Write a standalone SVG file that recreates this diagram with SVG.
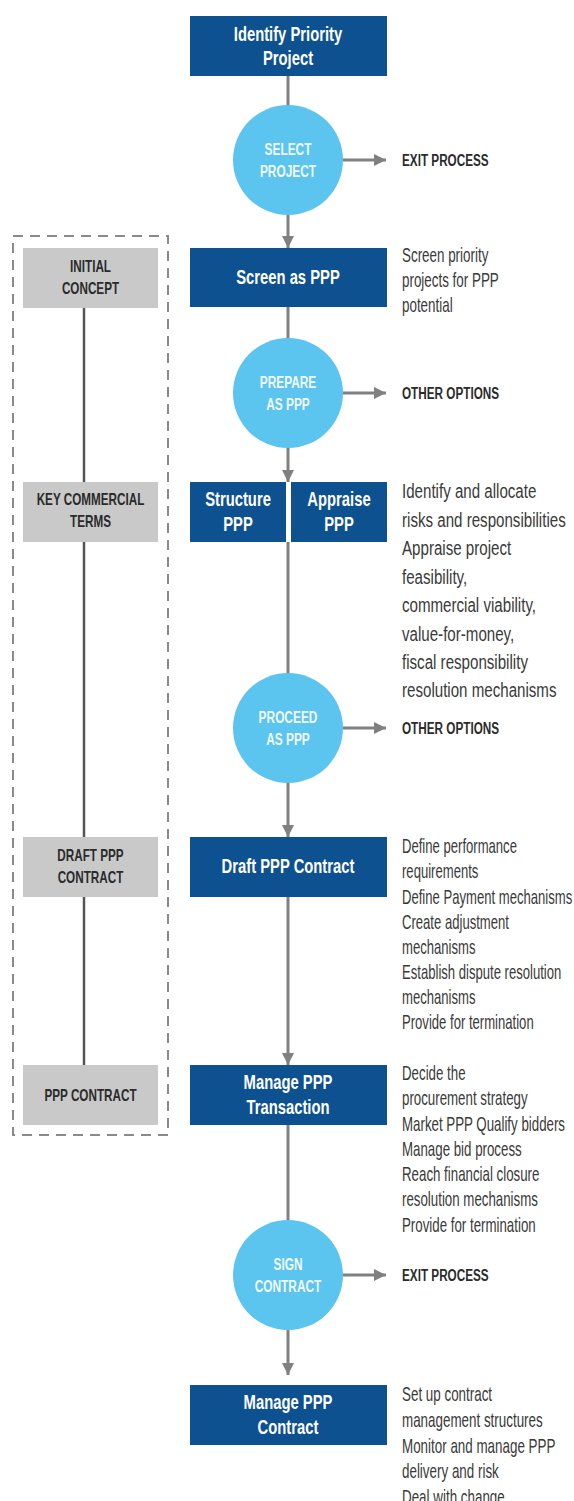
<svg xmlns="http://www.w3.org/2000/svg" width="574" height="1501" viewBox="0 0 574 1501">
<defs>
<style>
.box{fill:#0e5191}
.circ{fill:#5bc4ef}
.gray{fill:#c9c9c9}
.bt{font-family:'Liberation Sans',Arial,sans-serif;font-weight:bold;font-size:20px;fill:#ffffff;text-anchor:middle}
.ct{font-family:'Liberation Sans',Arial,sans-serif;font-weight:bold;font-size:17px;fill:#f2f9fd;text-anchor:middle}
.gt{font-family:'Liberation Sans',Arial,sans-serif;font-weight:bold;font-size:16.5px;fill:#2b2b2b;text-anchor:middle}
.xt{font-family:'Liberation Sans',Arial,sans-serif;font-weight:bold;font-size:17px;fill:#2b2b2b}
.rt{font-family:'Liberation Sans',Arial,sans-serif;font-size:20px;fill:#3a3a3a}
.rt2{font-family:'Liberation Sans',Arial,sans-serif;font-size:21px;fill:#3a3a3a}
.ln{stroke:#808080;stroke-width:3;fill:none}
.lnl{stroke:#555555;stroke-width:2.5;fill:none}
</style>
<marker id="ah" markerWidth="12" markerHeight="12" viewBox="0 0 12 12" refX="12" refY="6" orient="auto" markerUnits="userSpaceOnUse">
<path d="M0,0 L12,6 L0,12 Z" fill="#808080"/>
</marker>
</defs>
<rect width="574" height="1501" fill="#ffffff"/>

<g id="connectors">
<line class="ln" x1="288" y1="76" x2="288" y2="106"/>
<line class="ln" x1="288" y1="214" x2="288" y2="248" marker-end="url(#ah)"/>
<line class="ln" x1="343" y1="160" x2="386" y2="160" marker-end="url(#ah)"/>
<line class="ln" x1="288" y1="307" x2="288" y2="339"/>
<line class="ln" x1="343" y1="393" x2="386" y2="393" marker-end="url(#ah)"/>
<line class="ln" x1="288" y1="447" x2="288" y2="482" marker-end="url(#ah)"/>
<line class="ln" x1="288" y1="542" x2="288" y2="674"/>
<line class="ln" x1="343" y1="728" x2="386" y2="728" marker-end="url(#ah)"/>
<line class="ln" x1="288" y1="782" x2="288" y2="837" marker-end="url(#ah)"/>
<line class="ln" x1="288" y1="897" x2="288" y2="1065" marker-end="url(#ah)"/>
<line class="ln" x1="288" y1="1125" x2="288" y2="1221"/>
<line class="ln" x1="343" y1="1275" x2="386" y2="1275" marker-end="url(#ah)"/>
<line class="ln" x1="288" y1="1329" x2="288" y2="1375" marker-end="url(#ah)"/>
<line class="lnl" x1="84" y1="308" x2="84" y2="482"/>
<line class="lnl" x1="84" y1="542" x2="84" y2="837"/>
<line class="lnl" x1="84" y1="897" x2="84" y2="1065"/>
</g>

<g id="stage-frame">
<rect x="13" y="236" width="155" height="899" fill="none" stroke="#8a8a8a" stroke-width="2" stroke-dasharray="10 7"/>
</g>

<g id="identify">
<rect class="box" x="190" y="16" width="197" height="60"/>
<text class="bt" transform="translate(288 0) scale(0.74 1)" x="0" y="41">Identify Priority</text>
<text class="bt" transform="translate(288 0) scale(0.74 1)" x="0" y="65">Project</text>
</g>

<g id="select">
<circle class="circ" cx="288" cy="160" r="55"/>
<text class="ct" transform="translate(288 0) scale(0.7 1)" x="0" y="155">SELECT</text>
<text class="ct" transform="translate(288 0) scale(0.7 1)" x="0" y="177">PROJECT</text>
</g>
<g id="exit1"><text class="xt" transform="translate(402 0) scale(0.69 1)" x="0" y="166">EXIT PROCESS</text></g>

<g id="initial-concept">
<rect class="gray" x="23" y="248" width="135" height="60"/>
<text class="gt" transform="translate(90.5 0) scale(0.71 1)" x="0" y="272">INITIAL</text>
<text class="gt" transform="translate(90.5 0) scale(0.71 1)" x="0" y="294">CONCEPT</text>
</g>

<g id="screen">
<rect class="box" x="190" y="248" width="197" height="59"/>
<text class="bt" transform="translate(288 0) scale(0.74 1)" x="0" y="284">Screen as PPP</text>
</g>
<g id="screen-notes" class="rt" transform="translate(402 0) scale(0.67 1)">
<text x="0" y="262">Screen priority</text>
<text x="0" y="287">projects for PPP</text>
<text x="0" y="312">potential</text>
</g>

<g id="prepare">
<circle class="circ" cx="288" cy="393" r="55"/>
<text class="ct" transform="translate(288 0) scale(0.7 1)" x="0" y="388">PREPARE</text>
<text class="ct" transform="translate(288 0) scale(0.7 1)" x="0" y="410">AS PPP</text>
</g>
<g id="other1"><text class="xt" transform="translate(402 0) scale(0.69 1)" x="0" y="399">OTHER OPTIONS</text></g>

<g id="key-terms">
<rect class="gray" x="23" y="482" width="135" height="60"/>
<text class="gt" transform="translate(90.5 0) scale(0.71 1)" x="0" y="505">KEY COMMERCIAL</text>
<text class="gt" transform="translate(90.5 0) scale(0.71 1)" x="0" y="527">TERMS</text>
</g>

<g id="structure">
<rect class="box" x="190" y="482" width="96" height="60"/>
<text class="bt" transform="translate(238 0) scale(0.74 1)" x="0" y="506">Structure</text>
<text class="bt" transform="translate(238 0) scale(0.74 1)" x="0" y="531">PPP</text>
</g>
<g id="appraise">
<rect class="box" x="291" y="482" width="96" height="60"/>
<text class="bt" transform="translate(339 0) scale(0.74 1)" x="0" y="506">Appraise</text>
<text class="bt" transform="translate(339 0) scale(0.74 1)" x="0" y="531">PPP</text>
</g>
<g id="structure-notes" class="rt2" transform="translate(402 0) scale(0.72 1)">
<text x="0" y="498">Identify and allocate</text>
<text x="0" y="527">risks and responsibilities</text>
<text x="0" y="555">Appraise project</text>
<text x="0" y="584">feasibility,</text>
<text x="0" y="612">commercial viability,</text>
<text x="0" y="641">value-for-money,</text>
<text x="0" y="669">fiscal responsibility</text>
<text x="0" y="697">resolution mechanisms</text>
</g>

<g id="proceed">
<circle class="circ" cx="288" cy="728" r="55"/>
<text class="ct" transform="translate(288 0) scale(0.7 1)" x="0" y="723">PROCEED</text>
<text class="ct" transform="translate(288 0) scale(0.7 1)" x="0" y="745">AS PPP</text>
</g>
<g id="other2"><text class="xt" transform="translate(402 0) scale(0.69 1)" x="0" y="734">OTHER OPTIONS</text></g>

<g id="draft-label">
<rect class="gray" x="23" y="837" width="135" height="60"/>
<text class="gt" transform="translate(90.5 0) scale(0.71 1)" x="0" y="861">DRAFT PPP</text>
<text class="gt" transform="translate(90.5 0) scale(0.71 1)" x="0" y="883">CONTRACT</text>
</g>

<g id="draft">
<rect class="box" x="190" y="837" width="197" height="60"/>
<text class="bt" transform="translate(288 0) scale(0.74 1)" x="0" y="873">Draft PPP Contract</text>
</g>
<g id="draft-notes" class="rt" transform="translate(402 0) scale(0.655 1)">
<text x="0" y="853">Define performance</text>
<text x="0" y="878">requirements</text>
<text x="0" y="904">Define Payment mechanisms</text>
<text x="0" y="929">Create adjustment</text>
<text x="0" y="954">mechanisms</text>
<text x="0" y="979">Establish dispute resolution</text>
<text x="0" y="1004">mechanisms</text>
<text x="0" y="1029">Provide for termination</text>
</g>

<g id="ppp-contract-label">
<rect class="gray" x="23" y="1065" width="135" height="60"/>
<text class="gt" transform="translate(90.5 0) scale(0.71 1)" x="0" y="1101">PPP CONTRACT</text>
</g>

<g id="transaction">
<rect class="box" x="190" y="1065" width="197" height="60"/>
<text class="bt" transform="translate(288 0) scale(0.74 1)" x="0" y="1089">Manage PPP</text>
<text class="bt" transform="translate(288 0) scale(0.74 1)" x="0" y="1114">Transaction</text>
</g>
<g id="transaction-notes" class="rt" transform="translate(402 0) scale(0.665 1)">
<text x="0" y="1080">Decide the</text>
<text x="0" y="1105">procurement strategy</text>
<text x="0" y="1131">Market PPP Qualify bidders</text>
<text x="0" y="1156">Manage bid process</text>
<text x="0" y="1181">Reach financial closure</text>
<text x="0" y="1206">resolution mechanisms</text>
<text x="0" y="1232">Provide for termination</text>
</g>

<g id="sign">
<circle class="circ" cx="288" cy="1275" r="55"/>
<text class="ct" transform="translate(288 0) scale(0.7 1)" x="0" y="1270">SIGN</text>
<text class="ct" transform="translate(288 0) scale(0.7 1)" x="0" y="1292">CONTRACT</text>
</g>
<g id="exit2"><text class="xt" transform="translate(402 0) scale(0.69 1)" x="0" y="1281">EXIT PROCESS</text></g>

<g id="manage-contract">
<rect class="box" x="190" y="1385" width="197" height="60"/>
<text class="bt" transform="translate(288 0) scale(0.74 1)" x="0" y="1409">Manage PPP</text>
<text class="bt" transform="translate(288 0) scale(0.74 1)" x="0" y="1434">Contract</text>
</g>
<g id="contract-notes" class="rt" transform="translate(402 0) scale(0.67 1)">
<text x="0" y="1401">Set up contract</text>
<text x="0" y="1427">management structures</text>
<text x="0" y="1453">Monitor and manage PPP</text>
<text x="0" y="1478">delivery and risk</text>
<text x="0" y="1504">Deal with change</text>
</g>
</svg>
